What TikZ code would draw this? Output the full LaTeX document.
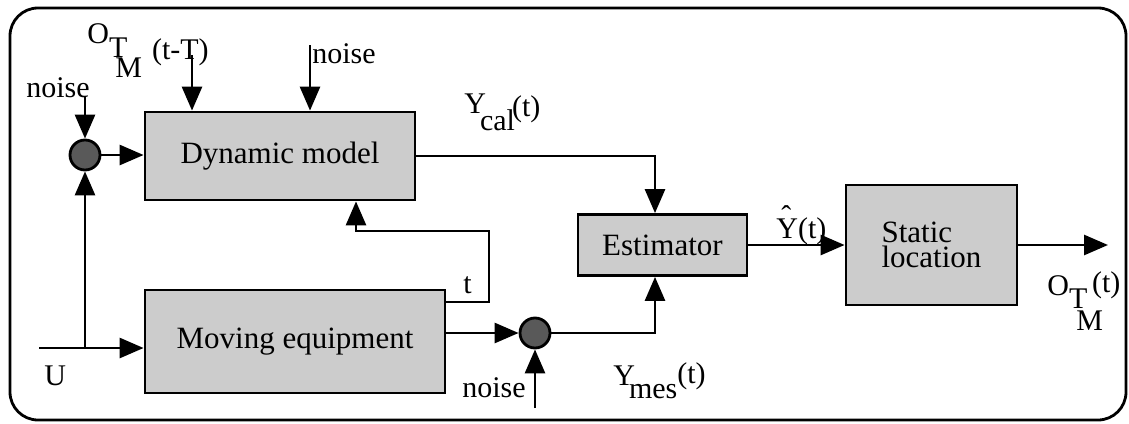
\documentclass[tikz,border=0pt]{standalone}
\usepackage{fontspec}
\setmainfont{Liberation Serif}
\usetikzlibrary{arrows.meta}
\begin{document}
\begin{tikzpicture}[x=1pt,y=-1pt,
  line width=2.8pt,
  >={Triangle[length=24pt,width=20pt]},
  block/.style={draw, fill=black!20, inner sep=0pt, font=\fontsize{31}{31}\selectfont},
  sumj/.style={circle, draw, fill=black!65, minimum size=30pt, inner sep=0pt},
  lbl/.style={inner sep=0pt, anchor=base west, font=\fontsize{30}{30}\selectfont}
]
\useasboundingbox (0,0) rectangle (1129,423);
\draw[rounded corners=28pt] (10,8) rectangle (1126,420);

% blocks
\node[block, minimum width=270pt, minimum height=88pt] (dm) at (280,156) {Dynamic model};
\node[block, minimum width=300pt, minimum height=103pt] (me) at (295,341.5) {Moving equipment};
\node[block, minimum width=169pt, minimum height=61pt] (est) at (662.5,245) {Estimator};
\node[block, minimum width=171pt, minimum height=120pt, align=left, font=\fontsize{31}{25}\selectfont] (sl) at (931.5,245) {Static\\location};

% summing junctions
\node[sumj] (j1) at (85,155) {};
\node[sumj] (j2) at (535,333) {};

% free ends and bends
\coordinate (n1top) at (85,97);
\coordinate (otop) at (192,55);
\coordinate (n2top) at (310,45);
\coordinate (ustart) at (39,348);
\coordinate (ubr) at (85,348);
\coordinate (n3bot) at (535,408);
\coordinate (out) at (1108,245);
\coordinate (ex) at (655,0);
\coordinate (fb1) at (489,302);
\coordinate (fb2) at (489,231);
\coordinate (fbx) at (356,0);

% connectors
\draw[->] (n1top) -- (j1.north);
\draw[->] (j1.east) -- (j1.east -| dm.west);
\draw[->] (otop) -- (otop |- dm.north);
\draw[->] (n2top) -- (n2top |- dm.north);
\draw[->] (ustart) -- (ustart -| me.west);
\draw[->] (ubr) -- (j1.south);
\draw[->] (dm.east) -| (est.north -| ex);
\draw[->] (fb1 -| me.east) -- (fb1) -- (fb2) -- (fb2 -| fbx) -- (dm.south -| fbx);
\draw[->] (me.east |- j2) -- (j2.west);
\draw[->] (n3bot) -- (j2.south);
\draw[->] (j2.east) -| (est.south -| ex);
\draw[->] (est.east) -- (sl.west |- est.east);
\draw[->] (sl.east) -- (out);

% labels
\node[lbl] (lnoise1) at (25,97) {noise};
\node[lbl] (lnoise2) at (311,63) {noise};
\node[lbl] (lnoise3) at (461,397) {noise};
\node[lbl] (lotT) at (86,43) {O\raisebox{-14pt}{T}\hspace{-12pt}\raisebox{-34pt}{M}\hspace{10pt}\raisebox{-16pt}{(t-T)}};
\node[lbl] (lycal) at (463,113) {Y\hspace{-6pt}\raisebox{-17pt}{cal}\hspace{-3pt}\raisebox{-3pt}{(t)}};
\node[lbl] (lt) at (462,293) {t};
\node[lbl] (lymes) at (612,385) {Y\hspace{-6pt}\raisebox{-13pt}{mes}\raisebox{2pt}{(t)}};
\node[lbl] (lyhat) at (775,238) {\makebox[0pt][l]{\hspace{5pt}\raisebox{12pt}{ˆ}}Y(t)};
\node[lbl] (lott) at (1046,295) {O\raisebox{-13pt}{T}\hspace{-11pt}\raisebox{-35pt}{M}\hspace{-11pt}\raisebox{3pt}{(t)}};
\node[lbl] (lu) at (43,385) {U};
\end{tikzpicture}
\end{document}
